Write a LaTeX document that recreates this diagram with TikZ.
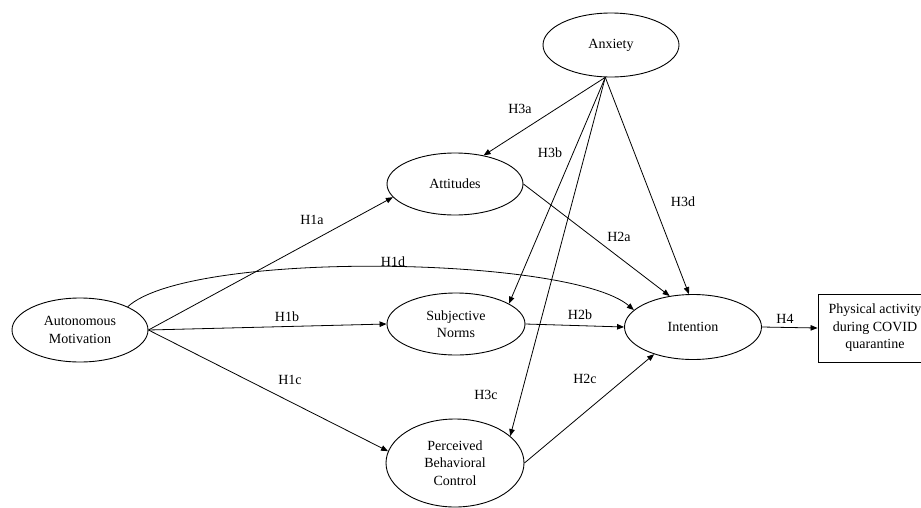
\documentclass[tikz,border=0pt]{standalone}
\usepackage{fontspec}
\setmainfont{Liberation Serif}
\usetikzlibrary{arrows.meta, shapes.geometric}

\begin{document}
\begin{tikzpicture}[x=1pt, y=-1pt, font=\fontsize{14}{17.5}\selectfont,
  latent/.style={ellipse, draw, line width=0.9pt, inner sep=0pt, align=center},
  outcome/.style={rectangle, draw, line width=0.9pt, inner sep=0pt, align=center},
  hyp/.style={-{Triangle[length=7pt,width=5.5pt]}, line width=0.8pt}]
  \useasboundingbox (0,0) rectangle (921,507);
  \clip (0,0) rectangle (921,507);
  \node[latent, minimum width=136pt, minimum height=64pt] (anx) at (611,45) {Anxiety};
  \node[latent, minimum width=136pt, minimum height=62pt] (att) at (455,184) {Attitudes};
  \node[latent, minimum width=136pt, minimum height=64pt] (am) at (80,330) {Autonomous\\Motivation};
  \node[latent, minimum width=138pt, minimum height=62pt] (sn) at (456,324) {Subjective\\Norms};
  \node[latent, minimum width=137pt, minimum height=65pt] (int) at (693,327) {Intention};
  \node[latent, minimum width=138pt, minimum height=88pt] (pbc) at (455,463) {Perceived\\Behavioral\\Control};
  \node[outcome, minimum width=114pt, minimum height=68pt] (pa) at (875,328) {Physical activity\\during COVID\\quarantine};
  \foreach \a/\b in {am.east/att.192, am.east/sn.west, am.east/pbc.170, att.east/int.127, sn.east/int.west, pbc.east/int.215,
    anx.260/att.45, anx.260/sn.21, anx.260/pbc.26, anx.260/int.97, int.east/pa.west} {
    \draw[hyp] (\a) -- (\b);
  }
  \draw[hyp] (am.26) .. controls +(62,-57) and +(-63,-54) .. (int.164);
  \foreach \h/\x/\y in {H1a/312/220, H1b/287/317, H1c/290/380, H1d/393/262, H2a/619/237, H2b/580/315,
    H2c/585/379, H3a/520/109, H3b/550/153, H3c/486/395, H3d/683/202, H4/785/319} {
    \node (\h) at (\x,\y) {\h};
  }
\end{tikzpicture}
\end{document}
